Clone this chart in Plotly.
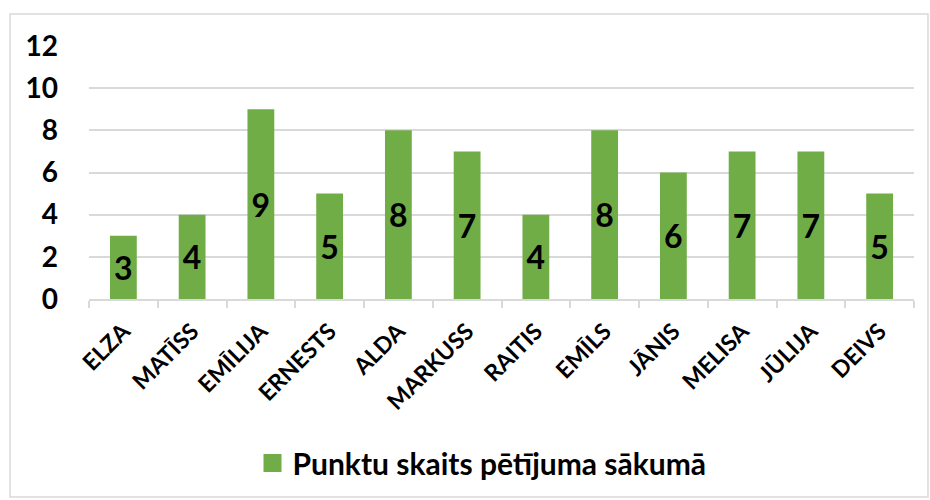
import plotly.graph_objects as go

names = ["ELZA", "MATĪSS", "EMĪLIJA", "ERNESTS", "ALDA", "MARKUSS", "RAITIS",
         "EMĪLS", "JĀNIS", "MELISA", "JŪLIJA", "DEIVS"]
points_start = [3, 4, 9, 5, 8, 7, 4, 8, 6, 7, 7, 5]
series_name = "Punktu skaits pētījuma sākumā"
y_ticks = [0, 2, 4, 6, 8, 10, 12]

FONT = "Lato"
GREEN = "#70AD47"

fig = go.Figure()
fig.add_trace(go.Bar(
    x=names, y=points_start, name=series_name,
    marker=dict(color=GREEN, line=dict(width=0)),
    text=[str(v) for v in points_start],
    textposition="inside", insidetextanchor="middle", textangle=0,
    constraintext="none",
    textfont=dict(family=FONT, size=32, color="black", weight="bold"),
    showlegend=False,
))
fig.add_trace(go.Scatter(
    x=[None], y=[None], mode="markers", name=series_name,
    marker=dict(symbol="square", size=16, color=GREEN, line=dict(color=GREEN, width=2)),
    showlegend=True,
))

L, R, T, B = 89, 16, 46, 201
W, H = 930, 500
pw, ph = W - L - R, H - T - B

def px_x(p):
    return (p - L) / pw

def px_y(p):
    return (H - B - p) / ph

fig.add_shape(type="rect", xref="paper", yref="paper",
              x0=px_x(10), x1=px_x(928), y0=px_y(497), y1=px_y(14),
              line=dict(color="#D9D9D9", width=1.5), fillcolor="rgba(0,0,0,0)", layer="below")

fig.update_layout(
    width=W, height=H,
    margin=dict(l=L, r=R, t=T, b=B, pad=0, autoexpand=False),
    paper_bgcolor="white", plot_bgcolor="white",
    bargap=0.61,
    font=dict(family=FONT, color="black"),
    legend=dict(orientation="h", x=px_x(482), xanchor="center", y=px_y(463), yanchor="middle",
                font=dict(family=FONT, size=30, color="black", weight="bold"),
                itemwidth=30),
    xaxis=dict(
        type="category", tickangle=-45, automargin=False,
        tickfont=dict(family=FONT, size=23, color="black", weight="bold"),
        showline=True, linecolor="#D9D9D9", linewidth=1.5,
        ticks="outside", tickson="boundaries", ticklen=7, tickcolor="#D9D9D9", tickwidth=1.5,
        showgrid=False, ticklabelstandoff=8,
    ),
    yaxis=dict(
        range=[0, 12], tickvals=y_ticks, ticktext=[str(v) for v in y_ticks],
        automargin=False,
        tickfont=dict(family=FONT, size=28, color="black", weight="bold"),
        showgrid=True, gridcolor="#D9D9D9", gridwidth=1.5,
        zeroline=False, showline=False, ticks="", ticklabelstandoff=30,
    ),
)

fig.write_html("out.html", config={"displayModeBar": False},
               post_script="document.body.style.margin='0';document.body.style.overflow='hidden';")
